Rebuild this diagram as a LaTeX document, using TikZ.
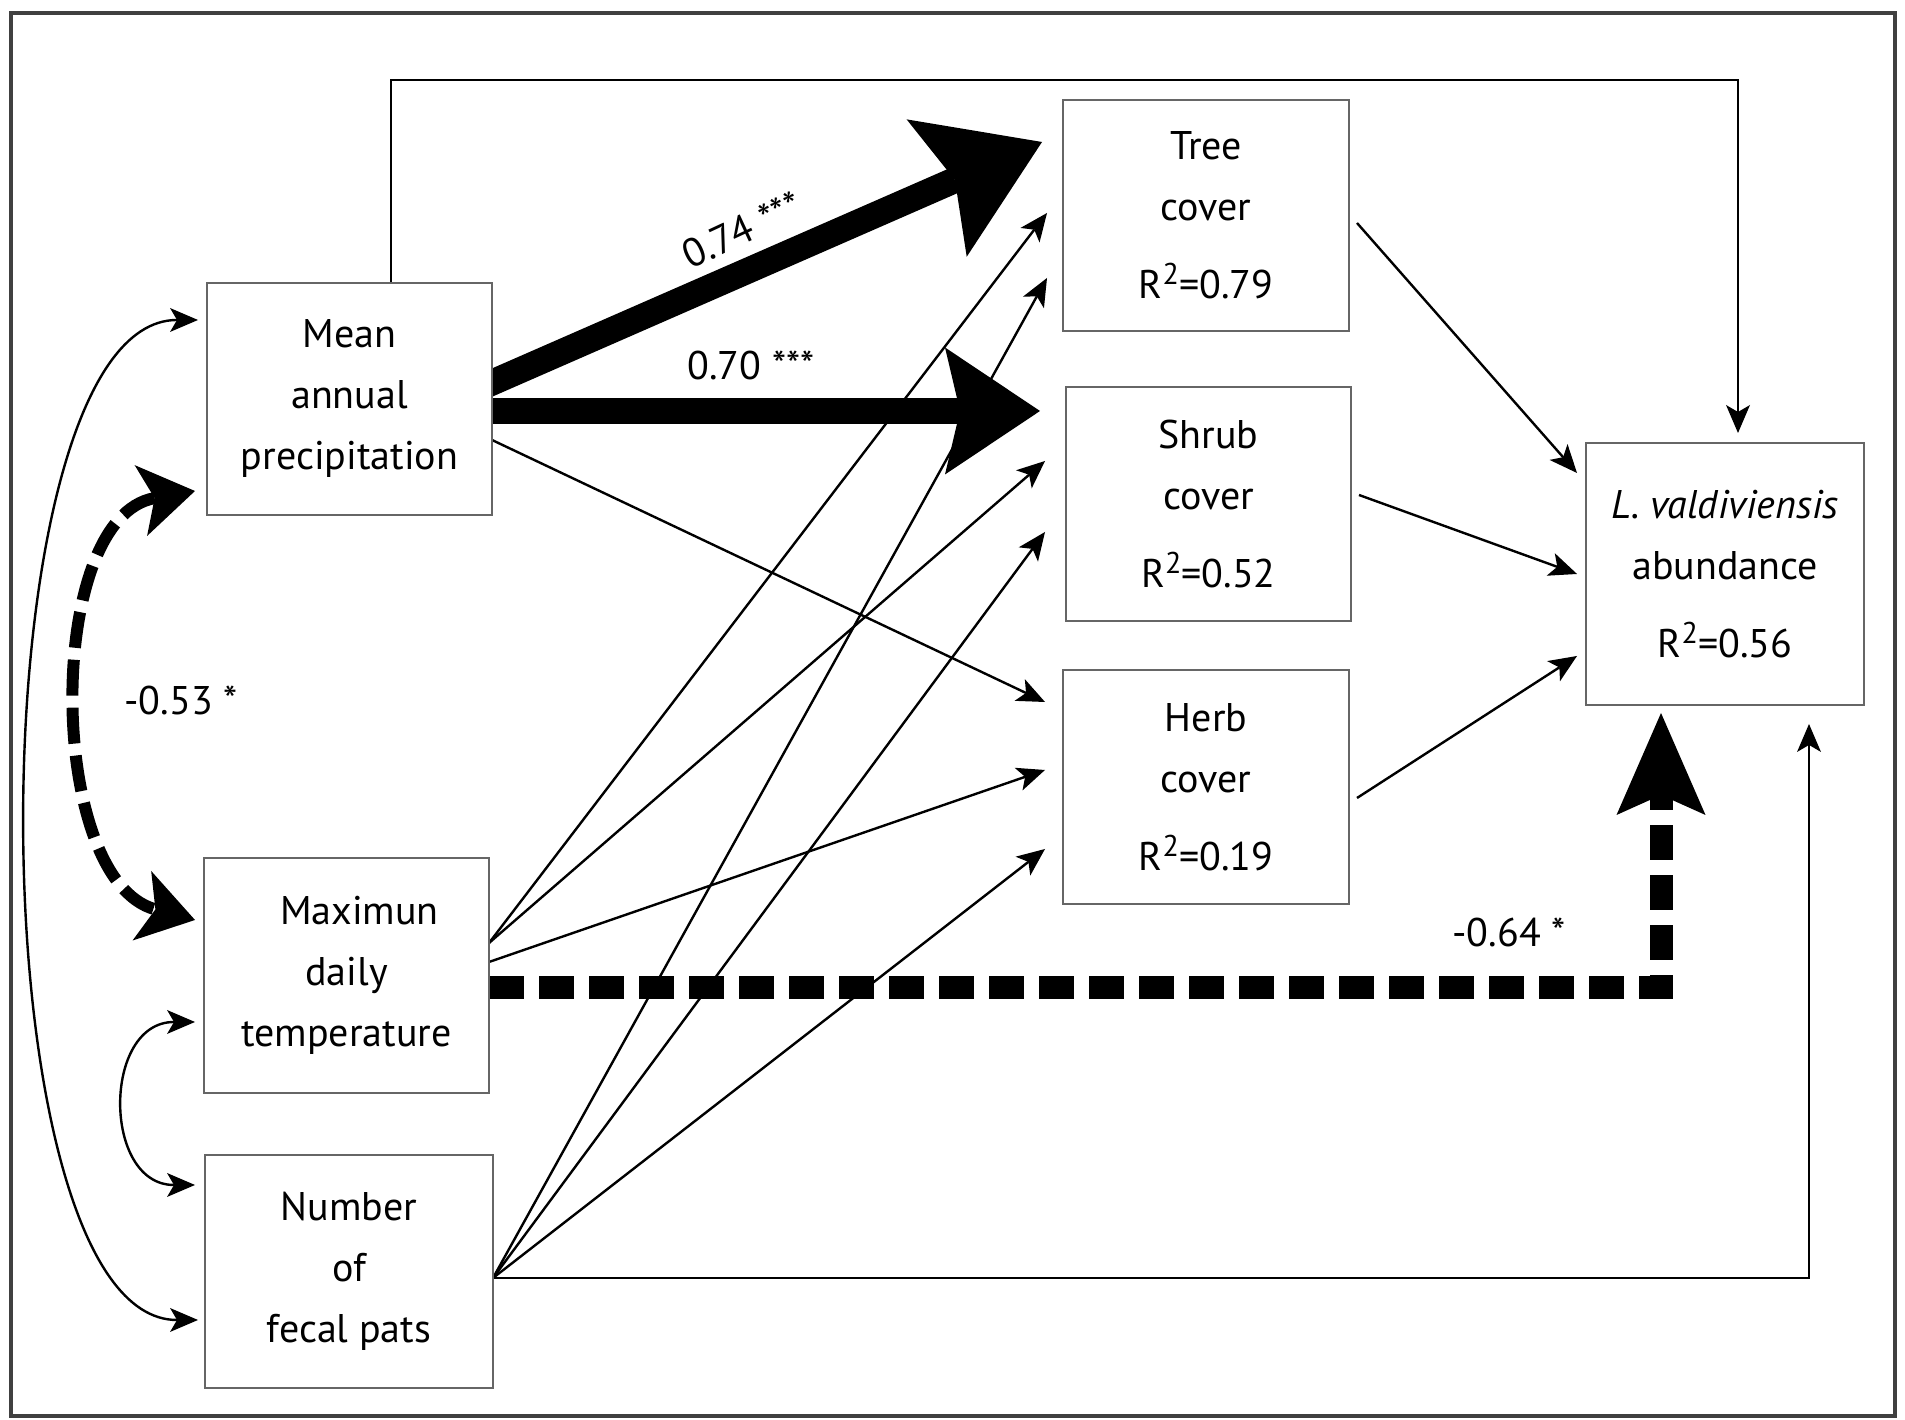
\documentclass[tikz,border=0pt]{standalone}
\usepackage{fontspec}
\setmainfont{PT Sans}
\usetikzlibrary{arrows.meta,calc}
\pgfdeclarelayer{bg}
\pgfdeclarelayer{back}
\pgfsetlayers{back,bg,main}
\newcommand\rsq{R\raisebox{14pt}{\fontsize{30}{30}\selectfont 2}}
\begin{document}
\begin{tikzpicture}[x=1pt,y=1pt,
  box/.style={draw=black!60, line width=2.5pt, fill=white, inner sep=0pt, outer sep=0pt,
    align=center, font=\fontsize{40}{61}\selectfont},
  thin/.style={line width=2.4pt, -{Stealth[length=28pt,width=24pt,inset=7pt,line width=0pt]}},
  thinboth/.style={line width=2.4pt, {Stealth[length=28pt,width=24pt,inset=7pt,line width=0pt]}-{Stealth[length=28pt,width=24pt,inset=7pt,line width=0pt]}},
  lab/.style={font=\fontsize{40}{48}\selectfont, inner sep=0pt}]
\useasboundingbox (0,0) rectangle (1905,1420);
\begin{pgfonlayer}{back}
\fill[white] (0,0) rectangle (1905,1420);
\end{pgfonlayer}
\draw[line width=4pt, black!75] (11,4) rectangle (1895,1407);

% boxes
\node[box, minimum width=285pt, minimum height=232pt] (mean) at (349.5,1021) {Mean\\annual\\precipitation};
\node[box, minimum width=285pt, minimum height=235pt] (maxt) at (346.5,444.5) {\hspace*{26pt}Maximun\\daily\\temperature};
\node[box, minimum width=288pt, minimum height=233pt] (num) at (349,148.5) {Number\\of\\fecal pats};
\node[box, minimum width=286pt, minimum height=231pt] (tree) at (1206,1204.5) {Tree\\cover\\[17pt]\rsq=0.79};
\node[box, minimum width=285pt, minimum height=234pt] (shrub) at (1208.5,916) {Shrub\\cover\\[17pt]\rsq=0.52};
\node[box, minimum width=286pt, minimum height=234pt] (herb) at (1206,633) {Herb\\cover\\[17pt]\rsq=0.19};
\node[box, minimum width=278pt, minimum height=262pt] (lv) at (1725,846) {\textit{L. valdiviensis}\\abundance\\[17pt]\rsq=0.56};

% labels
\node[lab, rotate=25] (l74) at (742,1190) {0.74 ***};
\node[lab] (l70) at (751,1055) {0.70 ***};
\node[lab] (l53) at (181,720) {-0.53 *};
\node[lab] (l64) at (1509,488) {-0.64 *};

\begin{pgfonlayer}{bg}
% long frame connectors
\draw[thin] ($(mean.north)+(41.5,0)$) -- ++(0,203) -| ($(lv.north)+(13,10)$);
\draw[thin] ($(num.east)+(0,-6.5)$) -| ($(lv.south)+(84,-19)$);

% curved correlations
\draw[thinboth] ($(mean.west)+(-9,79)$) to[out=180,in=180,looseness=0.58] ($(num.west)+(-7,-48.5)$);
\draw[thinboth] ($(maxt.west)+(-9,-46.5)$) to[out=180,in=180,looseness=1.46] ($(num.west)+(-10,86.5)$);
\draw[line width=12pt, dash pattern=on 36pt off 12pt,
  {Stealth[length=55pt,width=72pt,inset=14pt,line width=0pt]}-{Stealth[length=55pt,width=72pt,inset=14pt,line width=0pt]}]
  ($(mean.west)+(-12,-92)$) to[out=190,in=165,looseness=0.92] ($(maxt.west)+(-9,55.5)$);

% fan from mean
\draw[thin] ($(mean.east)+(0,-41)$) -- ($(herb.west)+(-18,85)$);
% fan from max temperature
\draw[thin] ($(maxt.east)+(0,32.5)$) -- ($(tree.west)+(-16,2.5)$);
\draw[thin] ($(maxt.east)+(0,32.5)$) -- ($(shrub.west)+(-21,43)$);
\draw[thin] ($(maxt.east)+(0,13.5)$) -- ($(herb.west)+(-18,17)$);
% fan from number of fecal pats
\draw[thin] ($(num.east)+(0,-6.5)$) -- ($(tree.west)+(-16,-62.5)$);
\draw[thin] ($(num.east)+(0,-6.5)$) -- ($(shrub.west)+(-21,-28)$);
\draw[thin] ($(num.east)+(0,-6.5)$) -- ($(herb.west)+(-18,-62)$);
% covers to abundance
\draw[thin] ($(tree.east)+(8,-7.5)$) -- ($(lv.west)+(-9,101)$);
\draw[thin] ($(shrub.east)+(8,9)$) -- ($(lv.west)+(-9,0)$);
\draw[thin] ($(herb.east)+(8,-11)$) -- ($(lv.west)+(-9,-82)$);

% thick arrows
\draw[line width=23pt, dash pattern=on 35pt off 15pt,
  -{Stealth[length=102pt,width=89pt,inset=20pt,line width=0pt]}]
  ($(maxt.east)+(0,-12.5)$) -| ($(lv.south)+(-64,-8)$);
\draw[line width=26pt, -{Stealth[length=115pt,width=150pt,inset=20pt,line width=0pt]}]
  ($(mean.east)+(-10,12)$) -- ($(tree.west)+(-21,73.5)$);
\draw[line width=26pt, -{Stealth[length=95pt,width=127pt,inset=15pt,line width=0pt]}]
  ($(mean.east)+(-10,-12)$) -- ($(shrub.west)+(-26,93)$);
\end{pgfonlayer}
\end{tikzpicture}
\end{document}
